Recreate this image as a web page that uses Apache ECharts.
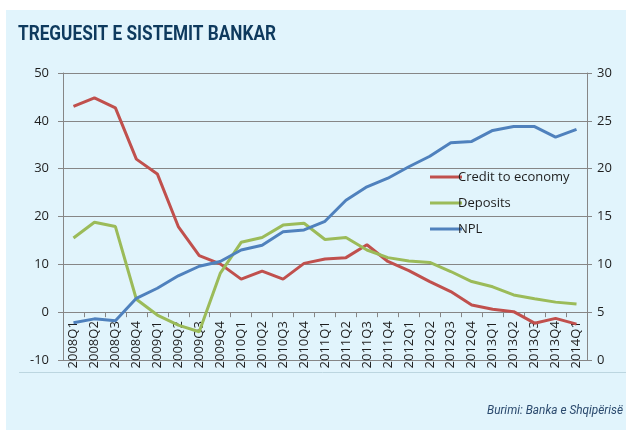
<!DOCTYPE html>
<html>
<head>
<meta charset="utf-8">
<script src="https://cdn.jsdelivr.net/npm/echarts@6/dist/echarts.min.js"></script>
<style>html,body{margin:0;padding:0;background:#fff}#c{width:626px;height:430px}</style>
</head>
<body>
<div id="c"></div>
<script>
var categories = ['2008Q1','2008Q2','2008Q3','2008Q4','2009Q1','2009Q2','2009Q3','2009Q4','2010Q1','2010Q2','2010Q3','2010Q4','2011Q1','2011Q2','2011Q3','2011Q4','2012Q1','2012Q2','2012Q3','2012Q4','2013Q1','2013Q2','2013Q3','2013Q4','2014Q1'];
var creditToEconomy = [43.0,44.8,42.7,32.0,28.9,17.9,11.8,10.1,6.9,8.6,6.9,10.2,11.1,11.4,14.1,10.6,8.7,6.4,4.3,1.5,0.6,0.1,-2.3,-1.3,-2.5];
var deposits = [15.5,18.8,17.9,2.7,-0.6,-2.7,-4.1,8.1,14.6,15.6,18.2,18.6,15.2,15.6,13.0,11.4,10.7,10.4,8.5,6.4,5.3,3.6,2.8,2.1,1.7];
var npl = [3.9,4.3,4.1,6.45,7.5,8.8,9.8,10.3,11.5,12.0,13.4,13.6,14.5,16.7,18.1,19.0,20.2,21.3,22.7,22.85,24.0,24.4,24.4,23.3,24.1];
var leftTicks = [-10, 50, 10];
var rightTicks = [0, 30, 5];
var titleText = 'TREGUESIT E SISTEMIT BANKAR';
var sourceText = 'Burimi: Banka e Shqipërisë';

var titleFont = 'bold 21px Roboto, sans-serif';
var sourceFont = 'italic 12.5px Roboto, sans-serif';
function measure(txt, f) {
  var cv = document.createElement('canvas').getContext('2d');
  cv.font = f;
  return cv.measureText(txt).width;
}
var titleScale = 258 / measure(titleText, titleFont);
var sourceScale = 136 / measure(sourceText, sourceFont);

var gridTop = 73, gridBottom = 70, plotH = 430 - gridTop - gridBottom;
var zeroOffset = -plotH * (0 - leftTicks[0]) / (leftTicks[1] - leftTicks[0]);

var chart = echarts.init(document.getElementById('c'), null, {renderer: 'canvas'});
var axisGrey = '#868686';
var labelColor = '#1e1e1e';
var font = '"Open Sans", sans-serif';
chart.setOption({
  animation: false,
  backgroundColor: '#ffffff',
  graphic: [
    {type: 'rect', z: -10, shape: {x: 6, y: 10, width: 620, height: 420}, style: {fill: '#e1f4fc'}},
    {type: 'line', z: -5, shape: {x1: 19, y1: 372.5, x2: 626, y2: 372.5}, style: {stroke: '#bcd6e0', lineWidth: 1}},
    {type: 'text', x: 18, y: 34.5, scaleX: titleScale, style: {text: titleText, fill: '#0e3a5e', font: titleFont, textVerticalAlign: 'middle', textAlign: 'left'}},
    {type: 'text', x: 623, y: 411, scaleX: sourceScale, style: {text: sourceText, fill: '#2b4a6e', font: sourceFont, textVerticalAlign: 'middle', textAlign: 'right'}}
  ],
  grid: {left: 63, right: 39, top: gridTop, bottom: gridBottom, containLabel: false},
  legend: {
    orient: 'vertical', left: 425, top: 165, itemWidth: 32, itemHeight: 3, itemGap: 12,
    icon: 'rect',
    textStyle: {fontFamily: font, fontSize: 13, color: labelColor, padding: [0,0,0,-9], lineHeight: 14},
    data: ['Credit to economy', 'Deposits', 'NPL']
  },
  xAxis: {
    type: 'category', data: categories, boundaryGap: true, position: 'bottom', offset: zeroOffset,
    axisLine: {show: true, onZero: false, lineStyle: {color: axisGrey}},
    axisTick: {show: true, inside: false, length: 5, alignWithLabel: false, lineStyle: {color: axisGrey}},
    axisLabel: {rotate: 90, interval: 0, margin: 9, fontFamily: font, fontSize: 13, color: labelColor}
  },
  yAxis: [
    {type: 'value', min: leftTicks[0], max: leftTicks[1], interval: leftTicks[2], position: 'left',
     axisLine: {show: true, lineStyle: {color: axisGrey}},
     axisTick: {show: true, length: 5, lineStyle: {color: axisGrey}},
     axisLabel: {fontFamily: font, fontSize: 13, color: labelColor, margin: 14},
     splitLine: {show: true, lineStyle: {color: axisGrey, width: 1}}},
    {type: 'value', min: rightTicks[0], max: rightTicks[1], interval: rightTicks[2], position: 'right',
     axisLine: {show: true, lineStyle: {color: axisGrey}},
     axisTick: {show: true, length: 5, lineStyle: {color: axisGrey}},
     axisLabel: {fontFamily: font, fontSize: 13, color: labelColor, margin: 10},
     splitLine: {show: false}}
  ],
  series: [
    {name: 'Credit to economy', type: 'line', data: creditToEconomy, yAxisIndex: 0, showSymbol: false, symbol: 'none',
     lineStyle: {width: 3, color: '#c0504d'}, itemStyle: {color: '#c0504d'}},
    {name: 'Deposits', type: 'line', data: deposits, yAxisIndex: 0, showSymbol: false, symbol: 'none',
     lineStyle: {width: 3, color: '#9bbb59'}, itemStyle: {color: '#9bbb59'}},
    {name: 'NPL', type: 'line', data: npl, yAxisIndex: 1, showSymbol: false, symbol: 'none',
     lineStyle: {width: 3, color: '#4f81bd'}, itemStyle: {color: '#4f81bd'}}
  ]
});
</script>
</body>
</html>
